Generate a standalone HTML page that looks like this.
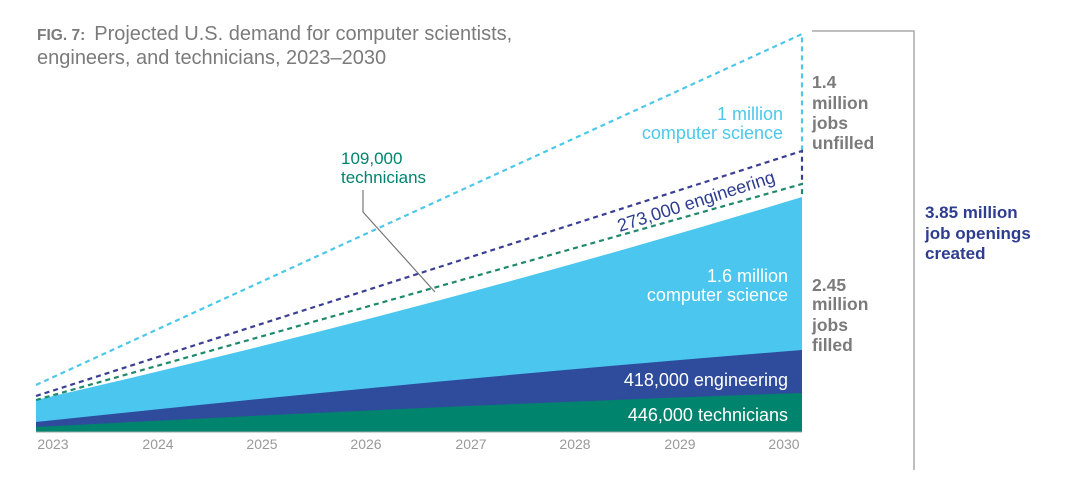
<!DOCTYPE html>
<html><head><meta charset="utf-8"><style>
body{margin:0;background:#fff;}
svg{display:block;font-family:"Liberation Sans",sans-serif;}
</style></head><body>
<svg width="1080" height="503" viewBox="0 0 1080 503">
<rect width="1080" height="503" fill="#fff"/>
<text x="37" y="40" font-size="20" fill="#7b7b7b"><tspan font-weight="bold" font-size="15.5">FIG. 7:</tspan><tspan dx="9">Projected U.S. demand for computer scientists,</tspan></text>
<text x="37" y="64" font-size="20" fill="#7b7b7b">engineers, and technicians, 2023–2030</text>
<!-- areas -->
<path d="M36,400 Q430,310 802,197 L802,432 L36,432 Z" fill="#4ac6ef"/>
<path d="M36,422 Q450,378 802,350 L802,432 L36,432 Z" fill="#2e4b9c"/>
<path d="M36,427 Q450,405 802,393 L802,432 L36,432 Z" fill="#00846e"/>
<line x1="36" y1="432" x2="802" y2="432" stroke="#9aa" stroke-width="1"/>
<!-- dashed -->
<g fill="none" stroke-width="2.2" stroke-dasharray="5,4">
<path d="M36,385 L802,34 L802,150" stroke="#4dc8ea"/>
<path d="M36,396 L802,151 L802,184" stroke="#3b3f94"/>
<path d="M36,400 L802,184 L802,197" stroke="#1f8a6b"/>
</g>
<!-- leader -->
<path d="M363,190 L363,212 L435,292" fill="none" stroke="#777" stroke-width="1.2"/>
<text x="341" y="164" font-size="17" fill="#00846e">109,000</text>
<text x="341" y="183" font-size="17" fill="#00846e">technicians</text>
<text x="783" y="120" font-size="18" fill="#4dc8ea" text-anchor="end">1 million</text>
<text x="783" y="139" font-size="18" fill="#4dc8ea" text-anchor="end">computer science</text>
<text x="0" y="0" font-size="18" fill="#2e3d8f" text-anchor="middle" transform="translate(698,207) rotate(-17.7)">273,000 engineering</text>
<g font-size="18" fill="#fff" text-anchor="end">
<text x="788" y="282">1.6 million</text>
<text x="788" y="301">computer science</text>
<text x="788" y="386">418,000 engineering</text>
<text x="788" y="421">446,000 technicians</text>
</g>
<g font-size="17.5" font-weight="bold" fill="#7b7b7b">
<text x="812" y="88">1.4</text>
<text x="812" y="109">million</text>
<text x="812" y="129">jobs</text>
<text x="812" y="149">unfilled</text>
<text x="812" y="291">2.45</text>
<text x="812" y="310">million</text>
<text x="812" y="331">jobs</text>
<text x="812" y="351">filled</text>
</g>
<path d="M812,31 L914,31 L914,470" fill="none" stroke="#aaa" stroke-width="1.5"/>
<g font-size="17" font-weight="bold" fill="#2e3d8f">
<text x="925" y="218">3.85 million</text>
<text x="925" y="239">job openings</text>
<text x="925" y="259">created</text>
</g>
<g font-size="14" fill="#999" text-anchor="middle">
<text x="53" y="449">2023</text><text x="158" y="449">2024</text><text x="262" y="449">2025</text><text x="366" y="449">2026</text>
<text x="471" y="449">2027</text><text x="575" y="449">2028</text><text x="680" y="449">2029</text><text x="784" y="449">2030</text>
</g>
</svg>
</body></html>
